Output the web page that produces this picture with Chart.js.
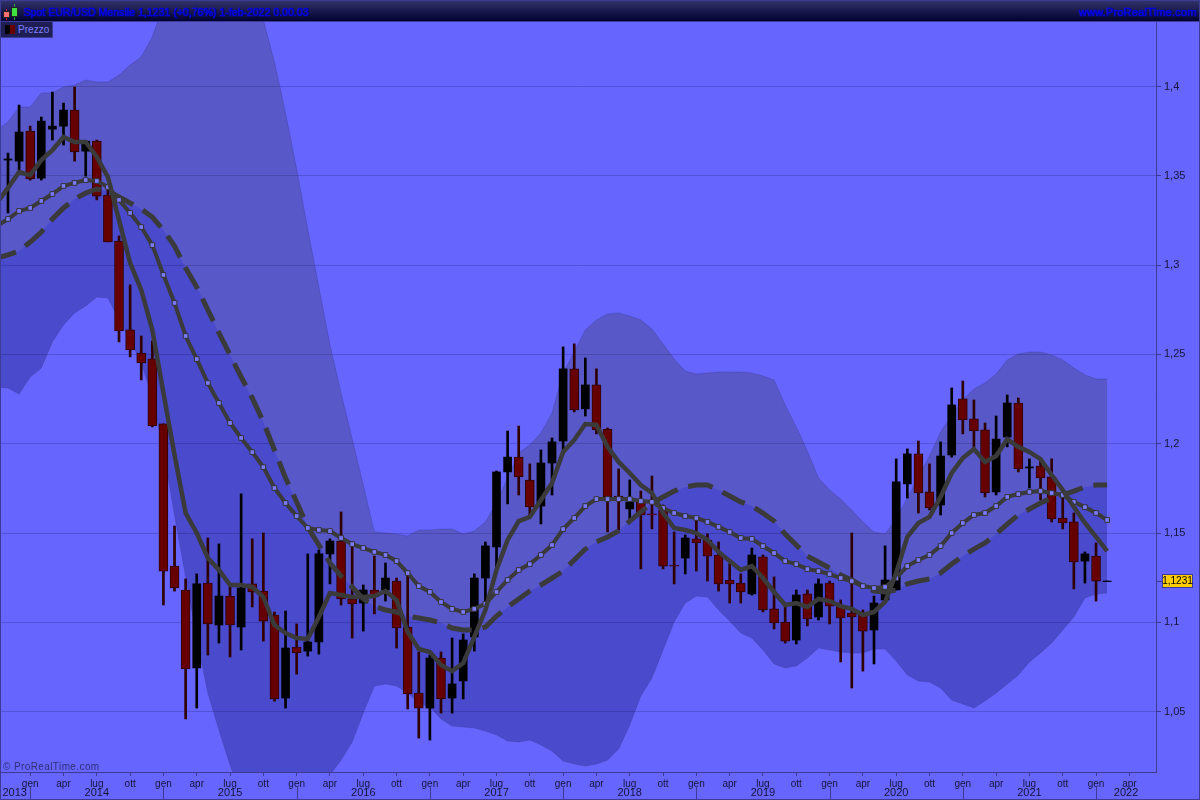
<!DOCTYPE html>
<html>
<head>
<meta charset="utf-8">
<title>Spot EUR/USD Mensile</title>
<script src="https://cdn.jsdelivr.net/npm/chart.js@4/dist/chart.umd.min.js"></script>
<style>
  html, body { margin: 0; padding: 0; background: #6666ff; }
  #wrap { position: relative; width: 1200px; height: 800px; overflow: hidden; font-family: "Liberation Sans", sans-serif; }
  #chart { position: absolute; left: 0; top: 0; }
  #frame { position: absolute; left: 0; top: 0; width: 1198px; height: 798px; border: 1px solid #3c3c96; }
  #header { position: absolute; left: 0; top: 0; width: 1200px; height: 21px; background: linear-gradient(#35356e, #000030); border-bottom: 1px solid #3c3c96; }
  #title { position: absolute; left: 24px; top: 6px; font-size: 10.5px; color: #0000e6; white-space: nowrap; -webkit-text-stroke: 0.5px #0000e6; letter-spacing: 0.03px; }
  #site { position: absolute; right: 3px; top: 6px; font-size: 11px; color: #0000e6; white-space: nowrap; -webkit-text-stroke: 0.5px #0000e6; letter-spacing: 0.2px; }
  .icon { position: absolute; border: 1px solid #222; }
  .stem { position: absolute; width: 1px; }
  #legend { position: absolute; left: 1px; top: 22px; width: 51px; height: 15px; background: #1e1e55; border-right: 1px solid #3c3c96; border-bottom: 1px solid #3c3c96; font-size: 10px; color: #7f7fff; }
  #legend span { position: absolute; left: 17px; top: 2px; letter-spacing: 0.05px; }
  #legend i { position: absolute; top: 3px; width: 5px; height: 9px; }
  #watermark { position: absolute; left: 3px; top: 761px; font-size: 10px; color: #2e2e78; letter-spacing: 0.4px; }
</style>
</head>
<body>
<div id="wrap">
  <canvas id="chart" width="1200" height="800"></canvas>
  <div id="header">
    <div class="stem" style="left:6px;top:9px;height:11px;background:#c03030;"></div>
    <div class="stem" style="left:14px;top:4px;height:16px;background:#30a030;"></div>
    <div class="icon" style="left:3px;top:11px;width:5px;height:5px;background:#ff7070;"></div>
    <div class="icon" style="left:11px;top:7px;width:5px;height:8px;background:#40e040;"></div>
    <div id="title">Spot EUR/USD Mensile 1,1231 (+0,76%) 1-feb-2022 0.00.03</div>
    <div id="site">www.ProRealTime.com</div>
  </div>
  <div id="legend"><i style="left:4px;background:#000;"></i><i style="left:9px;background:#660000;"></i><span>Prezzo</span></div>
  <div id="watermark">© ProRealTime.com</div>
  <div id="frame"></div>
</div>
<script>
// monthly candles, nov 2013 -> feb 2022
const opens = [1.3588,1.3582,1.3750,1.3487,1.3761,1.3778,1.3868,1.3638,1.3694,1.3392,
  1.3135,1.2637,1.2508,1.2475,1.2111,1.1315,1.1181,1.0745,1.1220,1.0985,
  1.1147,1.0974,1.1215,1.1175,1.1041,1.0576,1.0862,1.0839,1.0890,1.1383,
  1.1455,1.1131,1.1108,1.1181,1.1181,1.1231,1.0974,1.0604,1.0520,1.0800,
  1.0576,1.0672,1.0918,1.1248,1.1422,1.1842,1.1925,1.1797,1.1651,1.1892,
  1.2015,1.2419,1.2195,1.2329,1.2082,1.1707,1.1635,1.1685,1.1607,1.1629,
  1.1321,1.1360,1.1467,1.1461,1.1377,1.1237,1.1220,1.1159,1.1366,1.1075,
  1.1002,1.0901,1.1159,1.1030,1.1220,1.1091,1.1052,1.1041,1.0957,1.1125,
  1.1181,1.1775,1.1943,1.1730,1.1657,1.1937,1.2251,1.2139,1.2077,1.1730,
  1.2037,1.2228,1.1864,1.1875,1.1814,1.1584,1.1562,1.1343,1.1371,1.1228];
const closes = [1.3594,1.3745,1.3482,1.3806,1.3778,1.3868,1.3633,1.3694,1.3386,1.3130,
  1.2631,1.2525,1.2452,1.2099,1.1287,1.1192,1.0739,1.1215,1.0991,1.1147,
  1.0985,1.1192,1.1170,1.1007,1.0571,1.0856,1.0828,1.0890,1.1383,1.1455,
  1.1131,1.1103,1.1181,1.1142,1.1248,1.0969,1.0599,1.0520,1.0800,1.0571,
  1.0655,1.0901,1.1248,1.1428,1.1842,1.1925,1.1814,1.1646,1.1892,1.2010,
  1.2419,1.2189,1.2329,1.2077,1.1702,1.1685,1.1674,1.1601,1.1601,1.1315,
  1.1315,1.1472,1.1444,1.1371,1.1215,1.1215,1.1170,1.1377,1.1069,1.0996,
  1.0895,1.1153,1.1019,1.1215,1.1091,1.1024,1.1030,1.0951,1.1108,1.1237,
  1.1786,1.1943,1.1725,1.1640,1.1931,1.2217,1.2133,1.2071,1.1725,1.2026,
  1.2228,1.1859,1.1870,1.1808,1.1579,1.1556,1.1338,1.1383,1.1231,1.1231];
const highs = [1.3627,1.3896,1.3778,1.3829,1.3969,1.3907,1.3997,1.3694,1.3700,1.3437,
  1.3163,1.2889,1.2603,1.2575,1.2111,1.1539,1.1243,1.1271,1.1472,1.1439,
  1.1198,1.1719,1.1467,1.1500,1.1058,1.1063,1.0991,1.1383,1.1405,1.1467,
  1.1618,1.1422,1.1209,1.1371,1.1332,1.1248,1.1265,1.0834,1.0817,1.0834,
  1.0912,1.0935,1.1271,1.1450,1.1847,1.2071,1.2099,1.1887,1.1965,1.2032,
  1.2542,1.2559,1.2480,1.2419,1.2088,1.1859,1.1797,1.1735,1.1819,1.1657,
  1.1506,1.1489,1.1573,1.1495,1.1450,1.1327,1.1271,1.1416,1.1377,1.1254,
  1.1086,1.1181,1.1181,1.1243,1.1231,1.1125,1.1500,1.1069,1.1147,1.1428,
  1.1915,1.1971,1.2015,1.1887,1.2010,1.2312,1.2351,1.2245,1.2116,1.2155,
  1.2273,1.2256,1.1915,1.1909,1.1915,1.1702,1.1612,1.1394,1.1444,1.1231];
const lows = [1.3292,1.3521,1.3476,1.3476,1.3700,1.3672,1.3582,1.3498,1.3365,1.3130,
  1.2570,1.2486,1.2357,1.2094,1.1097,1.1175,1.0459,1.0520,1.0817,1.0884,
  1.0806,1.0845,1.1086,1.0895,1.0559,1.0520,1.0710,1.0811,1.0822,1.1215,
  1.1097,1.0912,1.0951,1.1047,1.1119,1.0856,1.0515,1.0352,1.0341,1.0492,
  1.0492,1.0571,1.0839,1.1114,1.1310,1.1663,1.1713,1.1601,1.1551,1.1713,
  1.1965,1.2178,1.2155,1.2055,1.1506,1.1517,1.1579,1.1299,1.1523,1.1299,
  1.1215,1.1271,1.1287,1.1231,1.1175,1.1108,1.1108,1.1153,1.1058,1.0963,
  1.0884,1.0879,1.0980,1.1013,1.0991,1.0778,1.0632,1.0727,1.0767,1.1114,
  1.1181,1.1696,1.1612,1.1629,1.1601,1.1925,1.2055,1.1971,1.1702,1.1713,
  1.1982,1.1842,1.1752,1.1685,1.1562,1.1523,1.1187,1.1220,1.1119,1.1231];

// indicators start one month earlier (oct 2013), just off the left edge
const fastAvg = [1.3348,1.3432,1.3521,1.3504,1.3588,1.3644,1.3717,1.3689,1.3689,1.3605,1.3493,
  1.3252,1.3012,1.2861,1.2637,1.2284,1.1937,1.1612,1.1500,1.1360,1.1293,
  1.1209,1.1209,1.1198,1.1142,1.0985,1.0940,1.0912,1.0907,1.1030,1.1164,
  1.1153,1.1142,1.1142,1.1147,1.1175,1.1125,1.0946,1.0851,1.0834,1.0761,
  1.0727,1.0772,1.0918,1.1069,1.1293,1.1461,1.1567,1.1590,1.1685,1.1780,
  1.1954,1.2021,1.2110,1.2105,1.1982,1.1898,1.1836,1.1769,1.1724,1.1612,
  1.1528,1.1517,1.1500,1.1461,1.1394,1.1343,1.1293,1.1315,1.1248,1.1170,
  1.1097,1.1108,1.1086,1.1131,1.1119,1.1091,1.1075,1.1041,1.1058,1.1114,
  1.1276,1.1478,1.1556,1.1590,1.1702,1.1836,1.1920,1.1970,1.1898,1.1931,
  1.2026,1.1982,1.1954,1.1914,1.1825,1.1741,1.1645,1.1556,1.1478,1.1399];
const dottedAvg = [1.3219,1.3258,1.3303,1.3320,1.3359,1.3398,1.3443,1.3460,1.3476,1.3471,1.3437,
  1.3365,1.3292,1.3213,1.3112,1.2945,1.2788,1.2603,1.2474,1.2340,1.2228,
  1.2116,1.2032,1.1953,1.1869,1.1752,1.1668,1.1595,1.1528,1.1517,1.1511,
  1.1472,1.1438,1.1416,1.1394,1.1377,1.1343,1.1276,1.1203,1.1170,1.1114,
  1.1075,1.1058,1.1075,1.1103,1.1170,1.1237,1.1293,1.1326,1.1377,1.1433,
  1.1522,1.1584,1.1651,1.1690,1.1690,1.1690,1.1690,1.1679,1.1674,1.1640,
  1.1612,1.1595,1.1584,1.1562,1.1534,1.1506,1.1472,1.1467,1.1427,1.1388,
  1.1343,1.1326,1.1298,1.1287,1.1270,1.1248,1.1231,1.1203,1.1192,1.1198,
  1.1248,1.1315,1.1349,1.1377,1.1427,1.1500,1.1556,1.1601,1.1612,1.1651,
  1.1702,1.1718,1.1730,1.1735,1.1724,1.1713,1.1674,1.1645,1.1612,1.1573];
const midBand = [1.3040,1.3057,1.3079,1.3129,1.3185,1.3258,1.3320,1.3370,1.3404,1.3426,1.3415,
  1.3381,1.3348,1.3314,1.3269,1.3196,1.3107,1.2984,1.2877,1.2749,1.2620,
  1.2497,1.2374,1.2256,1.2122,1.1965,1.1808,1.1674,1.1533,1.1433,1.1332,
  1.1259,1.1198,1.1131,1.1091,1.1069,1.1058,1.1035,1.1024,1.1013,1.0996,
  1.0968,1.0957,1.0957,1.0974,1.1035,1.1086,1.1131,1.1175,1.1209,1.1248,
  1.1287,1.1349,1.1410,1.1450,1.1478,1.1511,1.1567,1.1618,1.1668,1.1702,
  1.1735,1.1758,1.1769,1.1769,1.1741,1.1707,1.1674,1.1651,1.1612,1.1567,
  1.1494,1.1433,1.1371,1.1338,1.1304,1.1265,1.1237,1.1203,1.1175,1.1170,
  1.1181,1.1215,1.1231,1.1243,1.1276,1.1326,1.1371,1.1410,1.1444,1.1494,
  1.1550,1.1601,1.1634,1.1668,1.1696,1.1713,1.1735,1.1758,1.1769,1.1769];
const upperBand = [1.3756,1.3801,1.3885,1.3885,1.3964,1.3964,1.3997,1.4008,1.4036,1.4025,1.4025,
  1.4064,1.4120,1.4165,1.4277,1.4456,1.4596,1.4736,1.4820,1.4876,1.4904,
  1.4876,1.4764,1.4568,1.4372,1.4137,1.3852,1.3538,1.3202,1.2877,1.2553,
  1.2284,1.2026,1.1769,1.1506,1.1500,1.1494,1.1483,1.1517,1.1517,1.1522,
  1.1522,1.1494,1.1511,1.1562,1.1668,1.1808,1.1948,1.1993,1.2060,1.2172,
  1.2396,1.2513,1.2637,1.2693,1.2726,1.2732,1.2715,1.2693,1.2642,1.2558,
  1.2474,1.2407,1.2390,1.2396,1.2401,1.2401,1.2401,1.2396,1.2379,1.2357,
  1.2217,1.2094,1.1959,1.1808,1.1741,1.1690,1.1629,1.1562,1.1506,1.1494,
  1.1578,1.1696,1.1814,1.1931,1.2066,1.2161,1.2245,1.2306,1.2340,1.2390,
  1.2469,1.2502,1.2513,1.2513,1.2497,1.2469,1.2424,1.2385,1.2362,1.2362];
const lowerBand = [1.2317,1.2312,1.2278,1.2373,1.2424,1.2570,1.2665,1.2732,1.2771,1.2821,1.2816,
  1.2693,1.2581,1.2452,1.2261,1.1965,1.1601,1.1254,1.0912,1.0604,1.0397,
  1.0201,1.0033,0.9921,0.9837,0.9809,0.9809,0.9865,0.9949,1.0061,1.0145,
  1.0229,1.0330,1.0492,1.0643,1.0655,1.0643,1.0604,1.0548,1.0526,1.0459,
  1.0419,1.0414,1.0408,1.0391,1.0369,1.0335,1.0330,1.0341,1.0313,1.0279,
  1.0223,1.0207,1.0195,1.0207,1.0229,1.0291,1.0425,1.0587,1.0688,1.0845,
  1.1002,1.1108,1.1147,1.1142,1.1069,1.1007,1.0940,1.0912,1.0845,1.0767,
  1.0744,1.0755,1.0800,1.0856,1.0845,1.0834,1.0828,1.0828,1.0850,1.0850,
  1.0783,1.0705,1.0671,1.0666,1.0632,1.0565,1.0543,1.0520,1.0559,1.0604,
  1.0655,1.0705,1.0778,1.0828,1.0884,1.0957,1.1030,1.1136,1.1158,1.1164];

// axis ticks: month index counted from the first candle
const monthTicks = [2,5,8,11,14,17,20,23,26,29,32,35,38,41,44,47,50,53,56,59,62,65,68,71,74,77,80,83,86,89,92,95,98,101];
const monthNames = ["gen","apr","lug","ott"];
const yearTicks = [2,14,26,38,50,62,74,86,98];
const yearCenters = [0.6,8,20,32,44,56,68,80,92,100.7];
const yearLabels = ["2013","2014","2015","2016","2017","2018","2019","2020","2021","2022"];
const priceTicks = [1.05,1.1,1.15,1.2,1.25,1.3,1.35,1.4];
const lastPrice = 1.1231;

const axisColor = "#3c3c96";
const lineColor = "#3a3a3a";

function fmtPrice(v, digits) {
  return v.toFixed(digits).replace(".", ",");
}

function lineData(values) {
  return values.map((v, i) => ({ x: i - 1, y: v }));
}

function candleParts(isUp) {
  const idx = opens.map((o, i) => i).filter((i) => (closes[i] >= opens[i]) === isUp);
  return {
    bodies: idx.map((i) => ({ x: i, y: [opens[i], closes[i]] })),
    wicks: idx.map((i) => ({ x: i, y: [lows[i], highs[i]] }))
  };
}
const upCandles = candleParts(true);
const downCandles = candleParts(false);

// year row and price flag, placed through the chart scales
const extrasPlugin = {
  id: "extras",
  afterDraw(chart) {
    const ctx = chart.ctx;
    const xs = chart.scales.x;
    const ys = chart.scales.y;
    ctx.save();
    ctx.strokeStyle = axisColor;
    ctx.lineWidth = 1;
    yearTicks.forEach((t) => {
      const px = Math.round(xs.getPixelForValue(t)) + 0.5;
      ctx.beginPath();
      ctx.moveTo(px, 787);
      ctx.lineTo(px, 799);
      ctx.stroke();
    });
    ctx.fillStyle = "#14143c";
    ctx.font = '11px "Liberation Sans"';
    ctx.textAlign = "center";
    ctx.textBaseline = "alphabetic";
    yearLabels.forEach((label, i) => {
      ctx.fillText(label, xs.getPixelForValue(yearCenters[i]), 796);
    });

    const py = Math.round(ys.getPixelForValue(lastPrice));
    ctx.beginPath();
    ctx.moveTo(1156, py + 0.5);
    ctx.lineTo(1162, py + 0.5);
    ctx.stroke();
    ctx.fillStyle = "#ffcc00";
    ctx.fillRect(1162, py - 7, 31, 14);
    ctx.strokeRect(1162.5, py - 6.5, 30, 13);
    ctx.fillStyle = "#000";
    ctx.font = '10px "Liberation Sans"';
    ctx.textBaseline = "middle";
    ctx.fillText(fmtPrice(lastPrice, 4), 1177.5, py + 0.5);
    ctx.restore();
  }
};

new Chart(document.getElementById("chart"), {
  type: "bar",
  data: {
    datasets: [
      { type: "line", label: "Media", data: lineData(fastAvg), order: 1, borderColor: lineColor, borderWidth: 4.5, pointRadius: 0, tension: 0, fill: false },
      { type: "line", label: "Media 2", data: lineData(dottedAvg), order: 2, borderColor: lineColor, borderWidth: 4, pointStyle: "rect", pointRadius: 3.3, pointBackgroundColor: "#7a7aff", pointBorderColor: "#333333", pointBorderWidth: 1, tension: 0, fill: false },
      { type: "line", label: "Banda media", data: lineData(midBand), order: 3, borderColor: lineColor, borderWidth: 5, borderDash: [25, 11], borderDashOffset: 5, pointRadius: 0, tension: 0, fill: false },
      { label: "Corpo rialzo", data: upCandles.bodies, order: 5, grouped: false, barThickness: 8, backgroundColor: "#000000", borderColor: "#000000", borderWidth: 0, borderSkipped: false },
      { label: "Corpo ribasso", data: downCandles.bodies, order: 5, grouped: false, barThickness: 9, backgroundColor: "#660000", borderColor: "#2e0000", borderWidth: 1, borderSkipped: false },
      { label: "Ombra rialzo", data: upCandles.wicks, order: 6, grouped: false, barThickness: 2, backgroundColor: "#000000", borderWidth: 0 },
      { label: "Ombra ribasso", data: downCandles.wicks, order: 6, grouped: false, barThickness: 2, backgroundColor: "#2e0000", borderWidth: 0 },
      { type: "line", label: "Banda sup", data: lineData(upperBand), order: 8, borderColor: "rgba(60,60,150,0.35)", borderWidth: 1, pointRadius: 0, tension: 0, fill: { target: 2 }, backgroundColor: "rgba(55,55,72,0.3)" },
      { type: "line", label: "Banda inf", data: lineData(lowerBand), order: 9, borderColor: "rgba(60,60,150,0.35)", borderWidth: 1, pointRadius: 0, tension: 0, fill: { target: 2 }, backgroundColor: "rgba(9,9,85,0.3)" }
    ]
  },
  options: {
    responsive: false,
    animation: false,
    layout: { autoPadding: false, padding: { top: 22, left: 1, right: 0, bottom: 0 } },
    plugins: { legend: { display: false }, tooltip: { enabled: false }, title: { display: false } },
    scales: {
      x: {
        type: "linear",
        min: -0.63,
        max: 103.4,
        offset: false,
        afterBuildTicks: (scale) => { scale.ticks = monthTicks.map((t) => ({ value: t })); },
        afterFit: (scale) => { scale.height = 28; },
        border: { color: axisColor, width: 1 },
        grid: { drawOnChartArea: false, offset: false, drawTicks: true, tickLength: 4, tickColor: axisColor },
        ticks: {
          autoSkip: false,
          maxRotation: 0,
          padding: 2,
          color: "#14143c",
          font: { family: "Liberation Sans", size: 10 },
          callback: (v, i) => monthNames[i % 4]
        }
      },
      y: {
        position: "right",
        min: 1.0162,
        max: 1.4361,
        afterBuildTicks: (scale) => { scale.ticks = priceTicks.map((t) => ({ value: t })); },
        afterFit: (scale) => { scale.width = 44; },
        border: { color: axisColor, width: 1 },
        grid: { color: "rgba(50,50,140,0.35)", lineWidth: 1, tickLength: 5, tickColor: axisColor },
        ticks: {
          padding: 3,
          color: "#14143c",
          font: { family: "Liberation Sans", size: 11 },
          callback: (v) => fmtPrice(v, 2).replace(/0$/, "")
        }
      }
    }
  },
  plugins: [extrasPlugin]
});
</script>
</body>
</html>
